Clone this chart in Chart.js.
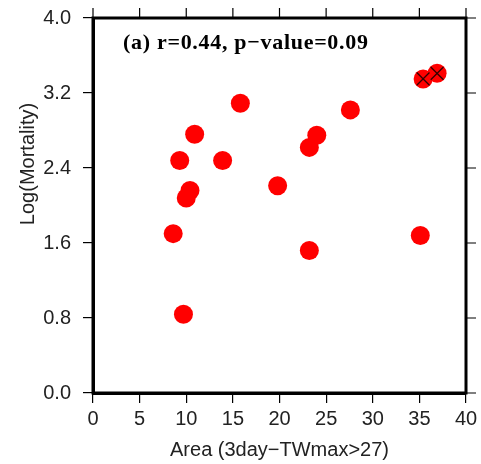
<!DOCTYPE html>
<html lang="en">
<head>
    <meta charset="UTF-8">
    <title>Log(Mortality) vs Area</title>
    <script src="https://cdn.jsdelivr.net/npm/chart.js"></script>
    <style>
        html, body { margin:0; padding:0; background:#fff; }
    </style>
</head>
<body>
    <canvas id="myChart" width="481" height="464"></canvas>

    <script>
        // data
        const areaX = [35.4, 36.9, 15.8, 27.6, 10.9, 24.0, 23.2, 9.3, 13.9, 19.8, 10.4, 10.0, 8.6, 35.1, 23.2, 9.7];
        const logMortality = [3.35, 3.41, 3.09, 3.02, 2.76, 2.75, 2.62, 2.48, 2.48, 2.21, 2.16, 2.08, 1.70, 1.68, 1.52, 0.84];
        // points marked with a cross
        const crossX = [35.4, 36.9];
        const crossY = [3.35, 3.41];

        const xTicks = [0, 5, 10, 15, 20, 25, 30, 35, 40];
        const yTicks = [0, 0.8, 1.6, 2.4, 3.2, 4.0];

        const titleText = '(a) r=0.44, p\u2212value=0.09';
        const xTitle = 'Area (3day\u2212TWmax>27)';
        const yTitle = 'Log(Mortality)';

        const tickFont = { family: 'Liberation Sans', size: 20 };

        // frame, mirror ticks, panel text
        const framePlugin = {
            id: 'frame',
            afterDraw(chart) {
                const ctx = chart.ctx;
                const a = chart.chartArea;
                const xs = chart.scales.x, ys = chart.scales.y;
                ctx.save();
                ctx.strokeStyle = '#000';
                ctx.lineWidth = 3;
                ctx.strokeRect(a.left, a.top, a.right - a.left, a.bottom - a.top);
                ctx.lineWidth = 1.2;
                ctx.beginPath();
                xTicks.forEach(v => {
                    const px = xs.getPixelForValue(v);
                    ctx.moveTo(px, a.top);
                    ctx.lineTo(px, a.top - 10);
                });
                yTicks.forEach(v => {
                    const py = ys.getPixelForValue(v);
                    ctx.moveTo(a.right, py);
                    ctx.lineTo(a.right + 10, py);
                });
                ctx.stroke();

                // panel title
                ctx.fillStyle = '#000';
                ctx.font = 'bold 22px "Liberation Serif"';
                ctx.letterSpacing = '0.7px';
                ctx.textAlign = 'left';
                ctx.textBaseline = 'alphabetic';
                ctx.fillText(titleText, a.left + 30, a.top + 31);
                ctx.letterSpacing = '0px';

                // y axis title
                ctx.fillStyle = '#222';
                ctx.font = '20px "Liberation Sans"';
                ctx.translate(28, 164);
                ctx.rotate(-Math.PI / 2);
                ctx.textAlign = 'center';
                ctx.textBaseline = 'middle';
                ctx.fillText(yTitle, 0, 0);
                ctx.restore();
            }
        };

        const ctx = document.querySelector('#myChart').getContext('2d');
        const myChart = new Chart(ctx, {
            type: 'scatter',
            data: {
                datasets: [{
                    data: crossX.map((x, i) => ({ x: x, y: crossY[i] })),
                    pointStyle: 'crossRot',
                    borderColor: '#300',
                    borderWidth: 1.3,
                    pointRadius: 9,
                    pointHoverRadius: 9,
                    order: 0
                }, {
                    data: areaX.map((x, i) => ({ x: x, y: logMortality[i] })),
                    backgroundColor: '#ff0000',
                    borderColor: '#ff0000',
                    borderWidth: 0,
                    pointRadius: 9.5,
                    pointHoverRadius: 9.5,
                    order: 1
                }]
            },
            options: {
                responsive: false,
                animation: false,
                layout: { padding: { top: 18, right: 15, left: 0, bottom: 0 } },
                plugins: {
                    legend: { display: false },
                    tooltip: { enabled: false }
                },
                scales: {
                    x: {
                        type: 'linear',
                        min: 0, max: 40,
                        afterBuildTicks: s => { s.ticks = xTicks.map(v => ({ value: v })); },
                        afterFit: s => { s.height = 71; s.paddingLeft = 0; s.paddingRight = 0; },
                        grid: { drawOnChartArea: false, drawTicks: true, tickLength: 10, color: '#000', lineWidth: 1.2 },
                        border: { display: true, color: '#000', width: 3 },
                        ticks: { color: '#222', font: tickFont, padding: 4, maxRotation: 0 },
                        title: { display: true, text: xTitle, color: '#222', font: tickFont, padding: { top: 0, bottom: 2 } }
                    },
                    y: {
                        type: 'linear',
                        min: 0, max: 4,
                        afterBuildTicks: s => { s.ticks = yTicks.map(v => ({ value: v })); },
                        afterFit: s => { s.width = 93; s.paddingTop = 0; s.paddingBottom = 0; },
                        grid: { drawOnChartArea: false, drawTicks: true, tickLength: 10, color: '#000', lineWidth: 1.2 },
                        border: { display: true, color: '#000', width: 3 },
                        ticks: { color: '#222', font: tickFont, padding: 12, callback: v => v.toFixed(1) }
                    }
                }
            },
            plugins: [framePlugin]
        });
    </script>
</body>
</html>
